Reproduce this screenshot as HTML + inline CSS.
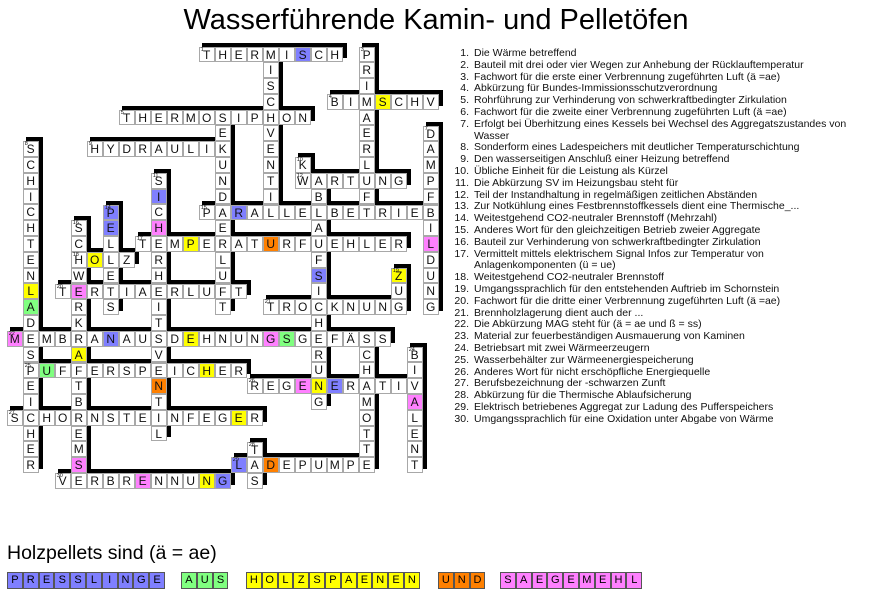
<!DOCTYPE html>
<html><head><meta charset="utf-8"><style>
body{margin:0;width:872px;height:615px;background:#fff;position:relative;overflow:hidden;font-family:"Liberation Sans",Arial,sans-serif;}
#g{position:absolute;left:0;top:-1px;z-index:0;}
.w{position:absolute;display:flex;}
.d{flex-direction:column;}
.w::before{content:"";position:absolute;left:3px;top:-4px;right:-4px;bottom:4px;background:#000;z-index:-1;}
.w i{font-style:normal;display:block;width:16px;height:15.8px;box-sizing:border-box;border:1px solid #a8a8a8;background:#fff;font-size:12px;line-height:14px;text-align:center;position:relative;color:#111;}
.w i u{position:absolute;left:1px;top:-1px;font-size:5.5px;line-height:6px;text-decoration:none;}
i.b{background:#7f7fff!important}i.y{background:#ffff00!important}i.p{background:#ff80ff!important}i.g{background:#80ff80!important}i.o{background:#ff8000!important}
#t{position:absolute;left:0;width:872px;top:4px;text-align:center;font-size:29px;}
#c{position:absolute;left:440px;top:48px;font-size:10.5px;line-height:11.8px;color:#111;}
#c div{position:relative;padding-left:34px;white-space:nowrap;}
#c div span{position:absolute;left:0;width:29px;text-align:right;}
#h{position:absolute;left:7px;top:542px;font-size:19.5px;}
.s{position:absolute;top:572px;display:flex;}
.s i{font-style:normal;display:block;width:15.8px;height:17px;box-sizing:border-box;border:1px solid #555;font-size:11px;line-height:15px;text-align:center;}
</style></head><body>
<div id="t">Wasserführende Kamin- und Pelletöfen</div>
<div id="g">
<div class="w d" style="left:262.7px;top:47.5px"><i><u>2</u>M</i><i>I</i><i>S</i><i>C</i><i>H</i><i>V</i><i>E</i><i>N</i><i>T</i><i>I</i><i>L</i></div>
<div class="w d" style="left:358.7px;top:47.5px"><i><u>3</u>P</i><i>R</i><i>I</i><i>M</i><i>A</i><i>E</i><i>R</i><i>L</i><i>U</i><i>F</i><i>T</i></div>
<div class="w d" style="left:214.7px;top:110.7px"><i><u>6</u>S</i><i>E</i><i>K</i><i>U</i><i>N</i><i>D</i><i>A</i><i>E</i><i>R</i><i>L</i><i>U</i><i>F</i><i>T</i></div>
<div class="w d" style="left:422.7px;top:126.5px"><i><u>7</u>D</i><i>A</i><i>M</i><i>P</i><i>F</i><i>B</i><i>I</i><i class="p">L</i><i>D</i><i>U</i><i>N</i><i>G</i></div>
<div class="w d" style="left:22.7px;top:142.3px"><i><u>8</u>S</i><i>C</i><i>H</i><i>I</i><i>C</i><i>H</i><i>T</i><i>E</i><i>N</i><i class="y">L</i><i class="g">A</i><i>D</i><i>E</i><i>S</i><i>P</i><i>E</i><i>I</i><i>C</i><i>H</i><i>E</i><i>R</i></div>
<div class="w d" style="left:294.7px;top:158.1px"><i><u>10</u>K</i><i>W</i></div>
<div class="w d" style="left:150.7px;top:173.9px"><i><u>11</u>S</i><i class="b">I</i><i>C</i><i class="p">H</i><i>E</i><i>R</i><i>H</i><i>E</i><i>I</i><i>T</i><i>S</i><i>V</i><i>E</i><i class="o">N</i><i>T</i><i>I</i><i>L</i></div>
<div class="w d" style="left:310.7px;top:173.9px"><i><u>13</u>A</i><i>B</i><i>L</i><i>A</i><i>U</i><i>F</i><i class="b">S</i><i>I</i><i>C</i><i>H</i><i>E</i><i>R</i><i>U</i><i class="y">N</i><i>G</i></div>
<div class="w d" style="left:102.7px;top:205.5px"><i class="b"><u>14</u>P</i><i class="b">E</i><i>L</i><i>L</i><i>E</i><i>T</i><i>S</i></div>
<div class="w d" style="left:70.7px;top:221.3px"><i><u>16</u>S</i><i>C</i><i>H</i><i>W</i><i class="p">E</i><i>R</i><i>K</i><i>R</i><i class="y">A</i><i>F</i><i>T</i><i>B</i><i>R</i><i>E</i><i>M</i><i class="p">S</i></div>
<div class="w d" style="left:390.7px;top:268.7px"><i class="y"><u>19</u>Z</i><i>U</i><i>G</i></div>
<div class="w d" style="left:358.7px;top:331.9px"><i><u>23</u>S</i><i>C</i><i>H</i><i>A</i><i>M</i><i>O</i><i>T</i><i>T</i><i>E</i></div>
<div class="w d" style="left:406.7px;top:347.7px"><i><u>24</u>B</i><i>I</i><i>V</i><i class="p">A</i><i>L</i><i>E</i><i>N</i><i>T</i></div>
<div class="w d" style="left:246.7px;top:442.5px"><i><u>28</u>T</i><i>A</i><i>S</i></div>

<div class="w" style="left:198.7px;top:47.5px"><i><u>1</u>T</i><i>H</i><i>E</i><i>R</i><i>M</i><i>I</i><i class="b">S</i><i>C</i><i>H</i></div>
<div class="w" style="left:326.7px;top:94.9px"><i><u>4</u>B</i><i>I</i><i>M</i><i class="y">S</i><i>C</i><i>H</i><i>V</i></div>
<div class="w" style="left:118.7px;top:110.7px"><i><u>5</u>T</i><i>H</i><i>E</i><i>R</i><i>M</i><i>O</i><i>S</i><i>I</i><i>P</i><i>H</i><i>O</i><i>N</i></div>
<div class="w" style="left:86.7px;top:142.3px"><i><u>9</u>H</i><i>Y</i><i>D</i><i>R</i><i>A</i><i>U</i><i>L</i><i>I</i><i>K</i></div>
<div class="w" style="left:294.7px;top:173.9px"><i><u>12</u>W</i><i>A</i><i>R</i><i>T</i><i>U</i><i>N</i><i>G</i></div>
<div class="w" style="left:198.7px;top:205.5px"><i><u>15</u>P</i><i>A</i><i class="b">R</i><i>A</i><i>L</i><i>L</i><i>E</i><i>L</i><i>B</i><i>E</i><i>T</i><i>R</i><i>I</i><i>E</i><i>B</i></div>
<div class="w" style="left:134.7px;top:237.1px"><i><u>17</u>T</i><i>E</i><i>M</i><i class="y">P</i><i>E</i><i>R</i><i>A</i><i>T</i><i class="o">U</i><i>R</i><i>F</i><i>U</i><i>E</i><i>H</i><i>L</i><i>E</i><i>R</i></div>
<div class="w" style="left:70.7px;top:252.9px"><i><u>18</u>H</i><i class="y">O</i><i>L</i><i>Z</i></div>
<div class="w" style="left:54.7px;top:284.5px"><i><u>20</u>T</i><i class="p">E</i><i>R</i><i>T</i><i>I</i><i>A</i><i>E</i><i>R</i><i>L</i><i>U</i><i>F</i><i>T</i></div>
<div class="w" style="left:262.7px;top:300.3px"><i><u>21</u>T</i><i>R</i><i>O</i><i>C</i><i>K</i><i>N</i><i>U</i><i>N</i><i>G</i></div>
<div class="w" style="left:6.7px;top:331.9px"><i class="p"><u>22</u>M</i><i>E</i><i>M</i><i>B</i><i>R</i><i>A</i><i class="b">N</i><i>A</i><i>U</i><i>S</i><i>D</i><i class="y">E</i><i>H</i><i>N</i><i>U</i><i>N</i><i class="p">G</i><i class="g">S</i><i>G</i><i>E</i><i>F</i><i>Ä</i><i>S</i><i>S</i></div>
<div class="w" style="left:22.7px;top:363.5px"><i><u>25</u>P</i><i class="g">U</i><i>F</i><i>F</i><i>E</i><i>R</i><i>S</i><i>P</i><i>E</i><i>I</i><i>C</i><i class="y">H</i><i>E</i><i>R</i></div>
<div class="w" style="left:246.7px;top:379.3px"><i><u>26</u>R</i><i>E</i><i>G</i><i class="p">E</i><i class="y">N</i><i class="b">E</i><i>R</i><i>A</i><i>T</i><i>I</i><i>V</i></div>
<div class="w" style="left:6.7px;top:410.9px"><i><u>27</u>S</i><i>C</i><i>H</i><i>O</i><i>R</i><i>N</i><i>S</i><i>T</i><i>E</i><i>I</i><i>N</i><i>F</i><i>E</i><i>G</i><i class="y">E</i><i>R</i></div>
<div class="w" style="left:230.7px;top:458.3px"><i class="b"><u>29</u>L</i><i>A</i><i class="o">D</i><i>E</i><i>P</i><i>U</i><i>M</i><i>P</i><i>E</i></div>
<div class="w" style="left:54.7px;top:474.1px"><i><u>30</u>V</i><i>E</i><i>R</i><i>B</i><i>R</i><i class="p">E</i><i>N</i><i>N</i><i>U</i><i class="y">N</i><i class="b">G</i></div>
</div>

<div id="c">
<div><span>1.</span>Die Wärme betreffend</div>
<div><span>2.</span>Bauteil mit drei oder vier Wegen zur Anhebung der Rücklauftemperatur</div>
<div><span>3.</span>Fachwort für die erste einer Verbrennung zugeführten Luft (ä =ae)</div>
<div><span>4.</span>Abkürzung für Bundes-Immissionsschutzverordnung</div>
<div><span>5.</span>Rohrführung zur Verhinderung von schwerkraftbedingter Zirkulation</div>
<div><span>6.</span>Fachwort für die zweite einer Verbrennung zugeführten Luft (ä =ae)</div>
<div><span>7.</span>Erfolgt bei Überhitzung eines Kessels bei Wechsel des Aggregatszustandes von<br>Wasser</div>
<div><span>8.</span>Sonderform eines Ladespeichers mit deutlicher Temperaturschichtung</div>
<div><span>9.</span>Den wasserseitigen Anschluß einer Heizung betreffend</div>
<div><span>10.</span>Übliche Einheit für die Leistung als Kürzel</div>
<div><span>11.</span>Die Abkürzung SV im Heizungsbau steht für</div>
<div><span>12.</span>Teil der Instandhaltung in regelmäßigen zeitlichen Abständen</div>
<div><span>13.</span>Zur Notkühlung eines Festbrennstoffkessels dient eine Thermische_...</div>
<div><span>14.</span>Weitestgehend CO2-neutraler Brennstoff (Mehrzahl)</div>
<div><span>15.</span>Anderes Wort für den gleichzeitigen Betrieb zweier Aggregate</div>
<div><span>16.</span>Bauteil zur Verhinderung von schwerkraftbedingter Zirkulation</div>
<div><span>17.</span>Vermittelt mittels elektrischem Signal Infos zur Temperatur von<br>Anlagenkomponenten (ü = ue)</div>
<div><span>18.</span>Weitestgehend CO2-neutraler Brennstoff</div>
<div><span>19.</span>Umgangssprachlich für den entstehenden Auftrieb im Schornstein</div>
<div><span>20.</span>Fachwort für die dritte einer Verbrennung zugeführten Luft (ä =ae)</div>
<div><span>21.</span>Brennholzlagerung dient auch der ...</div>
<div><span>22.</span>Die Abkürzung MAG steht für (ä = ae und ß = ss)</div>
<div><span>23.</span>Material zur feuerbeständigen Ausmauerung von Kaminen</div>
<div><span>24.</span>Betriebsart mit zwei Wärmeerzeugern</div>
<div><span>25.</span>Wasserbehälter zur Wärmeenergiespeicherung</div>
<div><span>26.</span>Anderes Wort für nicht erschöpfliche Energiequelle</div>
<div><span>27.</span>Berufsbezeichnung der -schwarzen Zunft</div>
<div><span>28.</span>Abkürzung für die Thermische Ablaufsicherung</div>
<div><span>29.</span>Elektrisch betriebenes Aggregat zur Ladung des Pufferspeichers</div>
<div><span>30.</span>Umgangssprachlich für eine Oxidation unter Abgabe von Wärme</div>
</div>

<div id="h">Holzpellets sind (ä = ae)</div>
<div class="s" style="left:7px"><i class="b">P</i><i class="b">R</i><i class="b">E</i><i class="b">S</i><i class="b">S</i><i class="b">L</i><i class="b">I</i><i class="b">N</i><i class="b">G</i><i class="b">E</i></div>
<div class="s" style="left:181px"><i class="g">A</i><i class="g">U</i><i class="g">S</i></div>
<div class="s" style="left:246px"><i class="y">H</i><i class="y">O</i><i class="y">L</i><i class="y">Z</i><i class="y">S</i><i class="y">P</i><i class="y">A</i><i class="y">E</i><i class="y">N</i><i class="y">E</i><i class="y">N</i></div>
<div class="s" style="left:438px"><i class="o">U</i><i class="o">N</i><i class="o">D</i></div>
<div class="s" style="left:500px"><i class="p">S</i><i class="p">A</i><i class="p">E</i><i class="p">G</i><i class="p">E</i><i class="p">M</i><i class="p">E</i><i class="p">H</i><i class="p">L</i></div>
</body></html>
